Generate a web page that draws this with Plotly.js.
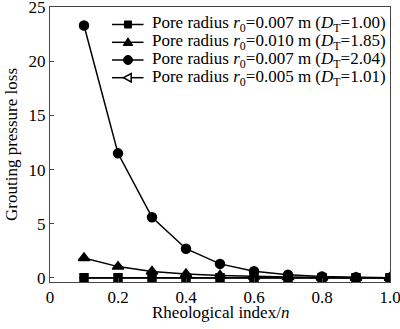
<!DOCTYPE html>
<html>
<head>
<meta charset="utf-8">
<script src="https://cdn.plot.ly/plotly-3.0.1.min.js"></script>
<style>html,body{margin:0;padding:0;background:#fff;}#chart{width:400px;height:329px;}</style>
</head>
<body>
<div id="chart"></div>
<script>
const n = [0.1, 0.2, 0.3, 0.4, 0.5, 0.6, 0.7, 0.8, 0.9, 1.0];
const lossR007D100 = [0.02, 0.02, 0.02, 0.02, 0.02, 0.02, 0.02, 0.02, 0.02, 0.02];
const lossR010D185 = [1.85, 1.05, 0.6, 0.36, 0.22, 0.13, 0.08, 0.05, 0.03, 0.02];
const lossR007D204 = [23.3, 11.5, 5.6, 2.7, 1.3, 0.62, 0.3, 0.14, 0.07, 0.03];
const lossR005D101 = [0.0, 0.0, 0.0, 0.0, 0.0, 0.0, 0.0, 0.0, 0.0, 0.0];
const seriesNames = [
  'Pore radius <i>r</i><sub>0</sub>=0.007 m (<i>D</i><sub>T</sub>=1.00)',
  'Pore radius <i>r</i><sub>0</sub>=0.010 m (<i>D</i><sub>T</sub>=1.85)',
  'Pore radius <i>r</i><sub>0</sub>=0.007 m (<i>D</i><sub>T</sub>=2.04)',
  'Pore radius <i>r</i><sub>0</sub>=0.005 m (<i>D</i><sub>T</sub>=1.01)'
];
const seriesSymbols = ['square', 'triangle-up', 'circle', 'triangle-left-open'];
const xTickVals = [0, 0.2, 0.4, 0.6, 0.8, 1.0];
const xTickText = ['0', '0.2', '0.4', '0.6', '0.8', '1.0'];
const yTickVals = [0, 5, 10, 15, 20, 25];
const xTitle = 'Rheological index/<i>n</i>';
const yTitle = 'Grouting pressure loss';

const font = 'Liberation Serif, Times New Roman, serif';
const line = {color: '#000', width: 1.5};
const seriesData = [lossR007D100, lossR010D185, lossR007D204, lossR005D101];
const markerSizes = [8, 10, 9, 8];
const drawOrder = [0, 1, 3, 2];
const traces = drawOrder.map(i => ({
  x: n, y: seriesData[i], name: seriesNames[i], mode: 'lines+markers', line: line,
  showlegend: false,
  marker: {symbol: seriesSymbols[i], size: markerSizes[i], color: '#000', line: {width: 1.5, color: '#000'}}
}));

// Legend drawn by hand (tight row spacing as in the reference)
const legX0 = 0.1824, legX1 = 0.275, legMX = 0.2294, legTX = 0.294;
const legRows = [0.9364, 0.8716, 0.8073, 0.7429];
const annotations = [];
const shapes = [];
const markerPaths = {
  'square': 'M-3.5,-3.5L3.5,-3.5L3.5,3.5L-3.5,3.5Z',
  'triangle-up': 'M0,4.5L4.8,-3.2L-4.8,-3.2Z',
  'triangle-left-open': 'M-4.5,0L3.2,4.2L3.2,-4.2Z'
};
seriesNames.forEach((name, i) => {
  const y = legRows[i];
  annotations.push({xref: 'paper', yref: 'paper', x: legTX, y: y, xanchor: 'left', yanchor: 'middle',
    text: name, showarrow: false, font: {family: font, size: 17, color: '#000'}});
  shapes.push({type: 'line', xref: 'paper', yref: 'paper', x0: legX0, x1: legX1, y0: y, y1: y,
    line: {color: '#000', width: 1.5}});
  const sym = seriesSymbols[i];
  if (sym === 'circle') {
    shapes.push({type: 'circle', xref: 'paper', yref: 'paper', xsizemode: 'pixel', ysizemode: 'pixel',
      xanchor: legMX, yanchor: y, x0: -4.5, x1: 4.5, y0: -4.5, y1: 4.5,
      fillcolor: '#000', line: {color: '#000', width: 1}});
  } else {
    const open = sym.endsWith('open');
    shapes.push({type: 'path', xref: 'paper', yref: 'paper', xsizemode: 'pixel', ysizemode: 'pixel',
      xanchor: legMX, yanchor: y, path: markerPaths[sym],
      fillcolor: open ? '#fff' : '#000', line: {color: '#000', width: open ? 1.5 : 1}});
  }
});
// x-axis title placed as an annotation to match the tight spacing of the reference
annotations.push({xref: 'paper', yref: 'paper', x: 0.5, y: -0.112, xanchor: 'center', yanchor: 'middle',
  text: xTitle, showarrow: false, font: {family: font, size: 17, color: '#000'}});

const layout = {
  width: 400, height: 329,
  margin: {l: 50, r: 10, t: 7, b: 47},
  paper_bgcolor: '#fff', plot_bgcolor: '#fff',
  font: {family: font, size: 17, color: '#000'},
  showlegend: false,
  annotations: annotations,
  shapes: shapes,
  xaxis: {range: [0, 1.0], tickvals: xTickVals, ticktext: xTickText, ticks: 'inside', ticklen: 4,
          tickfont: {family: font, size: 17}, ticklabeloverflow: 'allow', automargin: false,
          showgrid: false, zeroline: false, showline: true, linecolor: '#444', linewidth: 1, mirror: true},
  yaxis: {range: [-0.37, 25.001], tickvals: yTickVals, ticks: 'inside', ticklen: 4,
          tickfont: {family: font, size: 17}, ticklabeloverflow: 'allow', automargin: false,
          showgrid: false, zeroline: false, showline: true, linecolor: '#444', linewidth: 1, mirror: true,
          title: {text: yTitle, font: {family: font, size: 17}, standoff: 6}}
};
Plotly.newPlot('chart', traces, layout, {displayModeBar: false, staticPlot: true});
</script>
</body>
</html>
